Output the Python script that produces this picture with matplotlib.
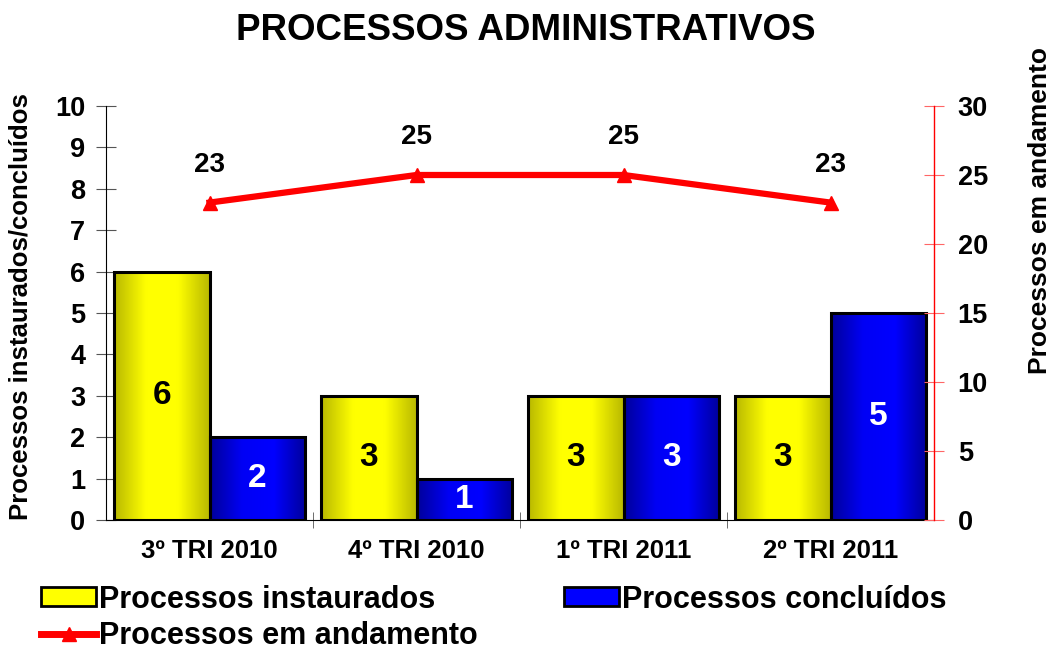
import matplotlib
matplotlib.use("Agg")
import matplotlib.pyplot as plt
import numpy as np
from matplotlib.colors import LinearSegmentedColormap
from matplotlib.patches import Patch
from matplotlib.lines import Line2D

categories = ["3º TRI 2010", "4º TRI 2010", "1º TRI 2011", "2º TRI 2011"]
instaurados = [6, 3, 3, 3]
concluidos = [2, 1, 3, 5]
andamento = [23, 25, 25, 23]

plt.rcParams['font.family'] = ['Liberation Sans', 'DejaVu Sans']

fig = plt.figure(figsize=(10.51, 6.59), dpi=100)
ax = fig.add_axes([106/1051, 1-520/659, (934-106)/1051, (520-106)/659])

x = np.arange(len(categories))
w = 0.46

yellow_cmap = LinearSegmentedColormap.from_list("y", ["#B8B800", "#FFFF00", "#FFFF00", "#B8B800"])
blue_cmap = LinearSegmentedColormap.from_list("b", ["#00009A", "#0000F5", "#0000FF", "#00009A"])
grad = np.linspace(0, 1, 256).reshape(1, -1)

bars1 = ax.bar(x - w/2, instaurados, w, facecolor="none", edgecolor="black", linewidth=2.2, zorder=3)
bars2 = ax.bar(x + w/2, concluidos, w, facecolor="none", edgecolor="black", linewidth=2.2, zorder=3)

for bars, cmap in ((bars1, yellow_cmap), (bars2, blue_cmap)):
    for b in bars:
        x0, y0 = b.get_x(), b.get_y()
        im = ax.imshow(grad, extent=[x0, x0 + b.get_width(), y0, y0 + b.get_height()],
                       cmap=cmap, aspect="auto", zorder=2, interpolation="bicubic")
        im.set_clip_path(b)

for b, v in zip(bars1, instaurados):
    ax.text(b.get_x() + b.get_width()/2, v/2, str(v), ha="center", va="center",
            fontsize=24, fontweight="bold", color="black", zorder=4)
for b, v in zip(bars2, concluidos):
    ax.text(b.get_x() + b.get_width()/2, v/2, str(v), ha="center", va="center",
            fontsize=24, fontweight="bold", color="white", zorder=4)

ax.set_xlim(-0.5, len(categories) - 0.5)
ax.set_ylim(0, 10)
ax.set_yticks(range(0, 11))
ax.set_xticks(x)
ax.set_xticklabels(categories, fontsize=18.5, fontweight="bold")
ax.set_xticks(np.arange(0.5, len(categories) - 0.5, 1), minor=True)
ax.tick_params(axis="x", which="major", length=0, pad=14)
ax.tick_params(axis="x", which="minor", direction="inout", length=12, color="#555555")
ax.tick_params(axis="y", direction="inout", length=14, labelsize=19.5, color="#555555", pad=8)
for lab in ax.get_yticklabels():
    lab.set_fontweight("bold")
ax.spines["top"].set_visible(False)
ax.spines["right"].set_visible(False)
ax.set_ylabel("Processos instaurados/concluídos", fontsize=18.5, fontweight="bold")
ax.yaxis.set_label_coords((33-106)/828, (520-307)/414)

ax2 = ax.twinx()
ax2.set_ylim(0, 30)
ax2.set_yticks(range(0, 31, 5))
ax2.plot(x, andamento, color="#FF0000", linewidth=4.5, marker="^", markersize=10, zorder=5)
for xi, v in zip(x, andamento):
    ax2.text(xi, v + 1.8, str(v), ha="center", va="bottom", fontsize=20, fontweight="bold")
ax2.spines["right"].set_color("#FF0000")
ax2.spines["right"].set_linewidth(1.0)
ax2.spines["top"].set_visible(False)
ax2.spines["left"].set_visible(False)
ax2.spines["bottom"].set_visible(False)
ax2.tick_params(axis="y", direction="inout", length=14, color="#FF6666", labelsize=19.5, pad=10)
for lab in ax2.get_yticklabels():
    lab.set_fontweight("bold")
ax2.set_ylabel("Processos em andamento", fontsize=19, fontweight="bold", rotation=90)
ax2.yaxis.set_label_coords((1028-106)/828, (520-210)/414)

fig.text(0.5, 1-30/659, "PROCESSOS ADMINISTRATIVOS", fontsize=26.5, fontweight="bold",
         ha="center", va="center")

handles = [Patch(facecolor="#FFFF00", edgecolor="black", linewidth=2),
           Line2D([], [], color="#FF0000", linewidth=5, marker="^", markersize=10),
           Patch(facecolor="#0000FF", edgecolor="black", linewidth=2)]
labels = ["Processos instaurados", "Processos em andamento", "Processos concluídos"]
fig.legend(handles, labels, ncol=2, loc="lower left", bbox_to_anchor=(0.013, -0.03),
           frameon=False, handlelength=1.8, handleheight=0.6, handletextpad=0.1,
           columnspacing=2.8, labelspacing=0.22,
           prop={"weight": "bold", "size": 22})

fig.savefig("out.png", dpi=100)
